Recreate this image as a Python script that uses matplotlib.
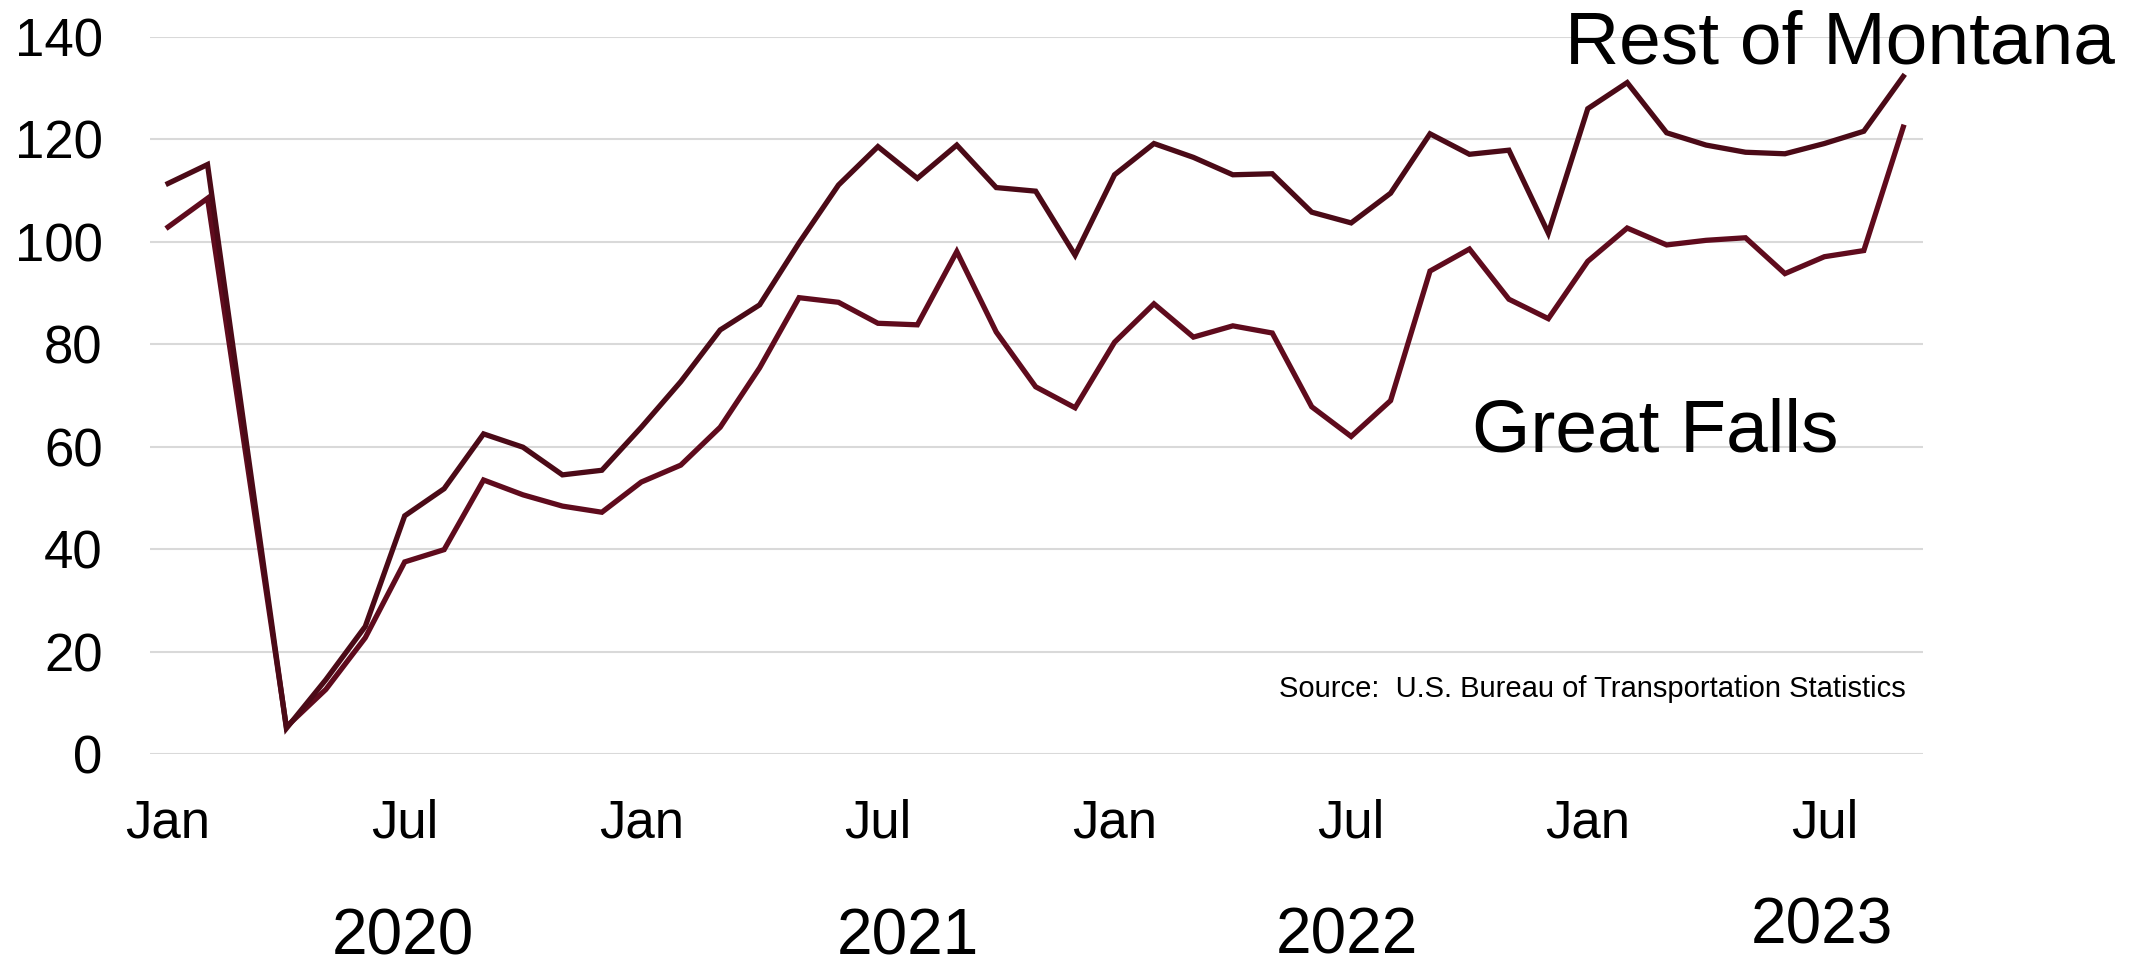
import matplotlib
matplotlib.use('Agg')
import matplotlib.pyplot as plt
from matplotlib.transforms import blended_transform_factory

plt.rcParams['font.family'] = ['Liberation Sans', 'DejaVu Sans']

# monthly values, Jan 2020 .. Sep 2023
rest_of_montana = [
    111.4, 115.1, 60.0, 5.0, 14.5, 24.9, 46.5, 51.8, 62.5, 59.9, 54.5, 55.4,
    63.8, 72.7, 82.8, 87.7, 99.8, 111.1, 118.6, 112.4, 118.9, 110.6, 109.9, 97.4,
    113.1, 119.2, 116.5, 113.1, 113.3, 105.8, 103.7, 109.5, 121.1, 117.1, 117.9, 101.7,
    126.0, 131.1, 121.3, 118.9, 117.5, 117.2, 119.2, 121.6, 132.3,
]
great_falls = [
    102.9, 108.5, 57.0, 5.3, 12.6, 22.7, 37.5, 39.9, 53.5, 50.6, 48.4, 47.2,
    53.1, 56.4, 63.8, 75.4, 89.1, 88.2, 84.1, 83.8, 98.1, 82.4, 71.7, 67.6,
    80.4, 87.9, 81.4, 83.6, 82.2, 67.8, 62.0, 69.0, 94.3, 98.6, 88.8, 85.0,
    96.2, 102.7, 99.4, 100.3, 100.8, 93.8, 97.1, 98.3, 122.4,
]
month_ticks = [0, 6, 12, 18, 24, 30, 36, 42]
month_labels = ['Jan', 'Jul', 'Jan', 'Jul', 'Jan', 'Jul', 'Jan', 'Jul']
years = ['2020', '2021', '2022', '2023']
year_pos = [5.95, 18.75, 29.9, 41.95]
year_base = [0.005, 0.005, 0.006, 0.016]

ROM_COLOR = '#4b0a17'
GF_COLOR = '#5f0b1d'

x = list(range(len(rest_of_montana)))

fig = plt.figure(figsize=(21.39, 9.59), dpi=100)
ax = fig.add_axes([0.0701, 0.2138, 0.899 - 0.0701, 0.9614 - 0.2138])

ax.plot(x, great_falls, color=GF_COLOR, lw=3.8, solid_joinstyle='miter', zorder=3)
ax.plot(x, rest_of_montana, color=ROM_COLOR, lw=3.8, solid_joinstyle='miter', zorder=4)

ax.set_xlim(-0.46, 44.5)
ax.set_ylim(0, 140)
ax.set_yticks(range(0, 141, 20))
ax.yaxis.grid(True, color='#d9d9d9', lw=1.5)
ax.set_axisbelow(True)
ax.set_xticks(month_ticks)
ax.set_xticklabels(month_labels)
ax.tick_params(axis='both', length=0, labelsize=38, colors='black')
ax.tick_params(axis='y', pad=34)
ax.tick_params(axis='x', pad=32)
for s in ax.spines.values():
    s.set_visible(False)

trans = blended_transform_factory(ax.transData, fig.transFigure)
for label, pos, base in zip(years, year_pos, year_base):
    ax.text(pos, base, label, transform=trans, ha='center', va='baseline',
            fontsize=46, clip_on=False)

ax.text(1565 / 2139, 1 - 63 / 959, 'Rest of Montana', transform=fig.transFigure,
        fontsize=54, ha='left', va='baseline')
ax.text(1472 / 2139, 1 - 452 / 959, 'Great Falls', transform=fig.transFigure,
        fontsize=54, ha='left', va='baseline')
ax.text(1906 / 2139, 1 - 697 / 959, 'Source:  U.S. Bureau of Transportation Statistics',
        transform=fig.transFigure, fontsize=21, ha='right', va='baseline')

fig.savefig('out.png', dpi=100)
